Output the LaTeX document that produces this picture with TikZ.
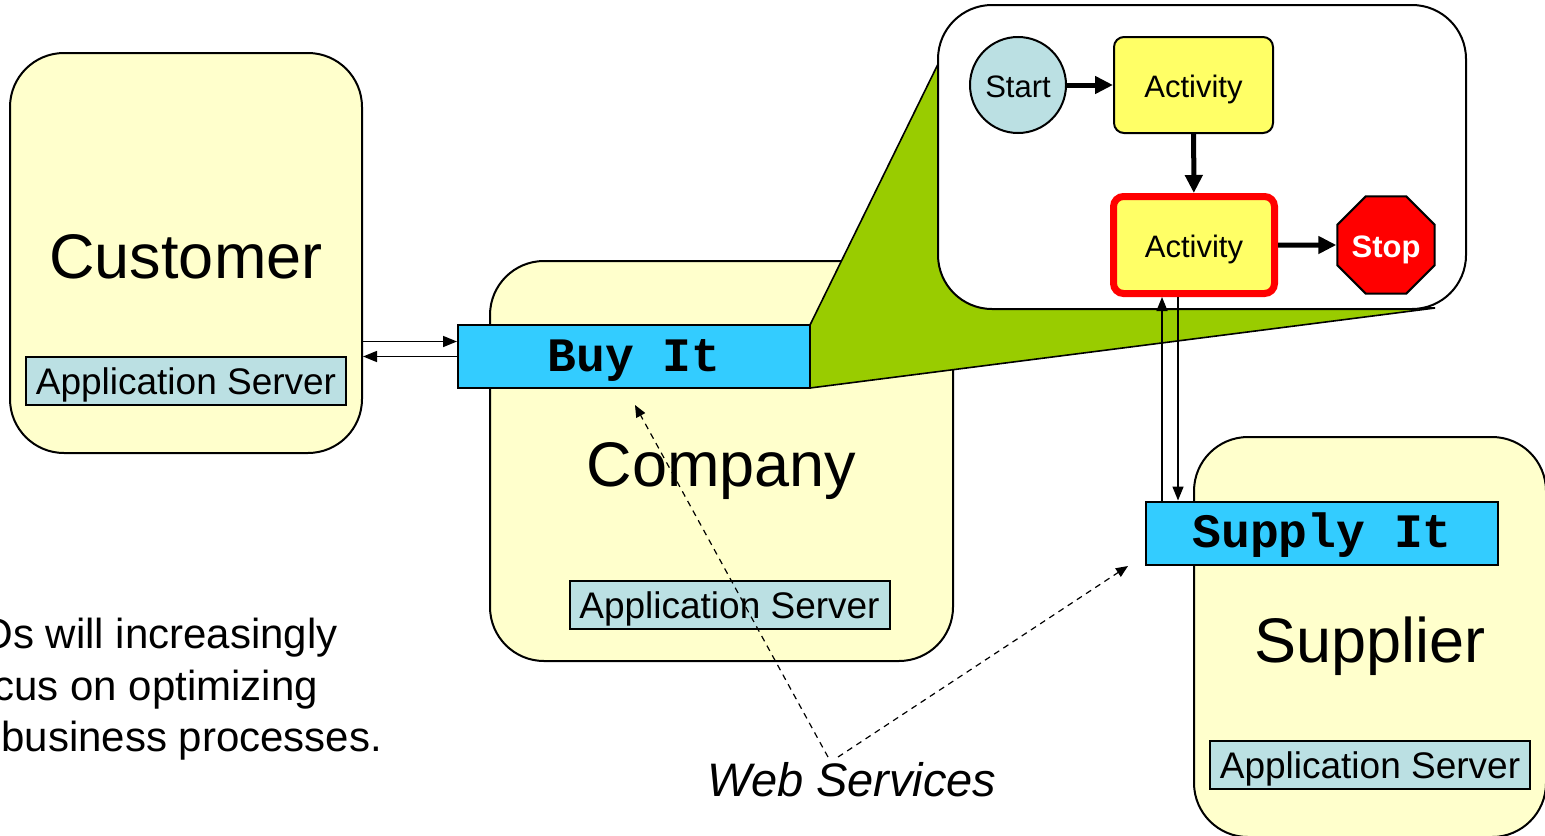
\documentclass[tikz,border=0pt]{standalone}
\usepackage{fontspec}
\setmainfont{Liberation Sans}
\setmonofont{Liberation Mono}
\usetikzlibrary{arrows.meta,shapes.geometric}
\usepackage{xcolor}
\definecolor{siteyellow}{HTML}{FFFFCC}
\definecolor{asblue}{HTML}{BBE0E3}
\definecolor{servcyan}{HTML}{33CCFF}
\definecolor{callgreen}{HTML}{99CC00}
\definecolor{actyellow}{HTML}{FFFF66}

\begin{document}
\begin{tikzpicture}[x=0.5pt,y=-0.5pt]
	\tikzset{site/.style = {draw,fill=siteyellow,rounded corners=27pt,line width=1pt,
			minimum width=176pt,minimum height=200pt,text height=25pt,text depth=0pt,
			font=\fontsize{31.5}{36}\selectfont}}
	\tikzset{appserver/.style = {draw,fill=asblue,line width=1pt,inner sep=0pt,
			minimum width=160pt,minimum height=24pt,text height=13pt,text depth=0pt,
			font=\fontsize{18.5}{22}\selectfont}}
	\tikzset{service/.style = {draw,fill=servcyan,line width=1pt,inner sep=0pt,
			minimum width=176pt,minimum height=31.5pt,text height=14.5pt,text depth=0pt,
			font=\ttfamily\bfseries\fontsize{24}{27}\selectfont}}
	\tikzset{activity/.style = {draw,fill=actyellow,rounded corners=5pt,line width=1pt,
			minimum width=79.5pt,minimum height=48pt,text height=12pt,text depth=0pt,
			font=\fontsize{15.5}{18}\selectfont}}
	\tikzset{note/.style = {anchor=base west,inner sep=0pt,
			font=\fontsize{21}{25}\selectfont}}
	\tikzset{flow/.style = {-{Triangle[length=9pt,width=8.5pt]},line width=2.5pt}}
	\tikzset{link/.style = {-{Triangle[length=7pt,width=5.5pt]},line width=0.75pt}}
	\tikzset{webref/.style = {-{Triangle[length=6pt,width=5pt]},line width=0.6pt,
			dash pattern=on 3pt off 2.5pt}}
	\useasboundingbox (0,0) rectangle (1545,835);
	\clip (0,0) rectangle (1545,835);
	% sites
	\node[site] (cust) at (186,253) {Customer};
	\node[site,minimum width=231.5pt] (comp) at (721.5,461) {Company};
	\node[site] (supp) at (1370,637) {Supplier};
	\node[appserver] (custas) at (186,381) {Application Server};
	\node[appserver] (compas) at (729.5,605) {Application Server};
	\node[appserver] (suppas) at (1370,765) {Application Server};
	% zoom wedge
	\filldraw[fill=callgreen,line width=0.8pt] (810,325) -- (940,60) -- (1300,308)
		-- (1435,308) -- (810,388) -- cycle;
	% services
	\node[service] (buy) at (634,356.5) {Buy It};
	\node[service] (supply) at (1322,533) {Supply It};
	% process
	\node[draw,fill=white,rounded corners=27pt,line width=1pt,
		minimum width=264pt,minimum height=152pt] (proc) at (1202,157) {};
	\node[circle,draw,fill=asblue,line width=1pt,minimum size=48pt,inner sep=0pt,
		text height=12pt,text depth=0pt,
		font=\fontsize{15.5}{18}\selectfont] (start) at (1018,85) {Start};
	\node[activity] (act1) at (1193.5,85) {Activity};
	\node[activity,draw=red,line width=3.5pt,minimum width=80.5pt,minimum height=48.5pt]
		(act2) at (1194,245) {Activity};
	\node[regular polygon,regular polygon sides=8,draw,fill=red,line width=1pt,
		minimum size=52pt,inner sep=0pt,text=white,text height=12pt,text depth=0pt,
		font=\bfseries\fontsize{15.5}{18}\selectfont] (stop) at (1386,245) {Stop};
	\draw[flow] (start) -- (act1);
	\draw[flow] (act1) -- (act2);
	\draw[flow] (act2) -- (stop);
	% messages
	\draw[link] ([yshift=7.5pt]buy.west -| cust.east) -- ([yshift=7.5pt]buy.west);
	\draw[link] (buy.west) -- (buy.west -| cust.east);
	\draw[link] ([xshift=-16pt]act2.south |- supply.north) -- ([xshift=-16pt]act2.south);
	\draw[link] ([xshift=-8pt]act2.south) -- ([xshift=-8pt]act2.south |- supply.north);
	% web services
	\node[font=\itshape\fontsize{23.5}{28}\selectfont] (ws) at (852,780) {Web Services};
	\coordinate (wsa) at (828,757);
	\coordinate (wsb) at (838,757);
	\coordinate (buyend) at (635,405);
	\coordinate (supplyend) at (1128,566);
	\draw[webref] (wsa) -- (buyend);
	\draw[webref] (wsb) -- (supplyend);
	% note
	\node[note] (note1) at (-20,648) {Os will increasingly};
	\node[note] (note2) at (-7,700) {cus on optimizing};
	\node[note] (note3) at (1,751) {business processes.};
\end{tikzpicture}
\end{document}
